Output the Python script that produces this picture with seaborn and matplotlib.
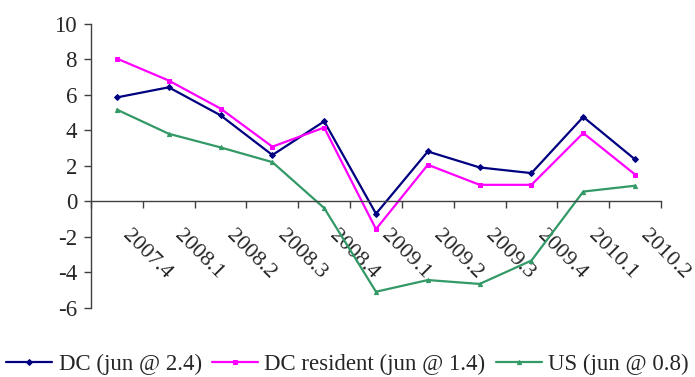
import matplotlib
matplotlib.use("Agg")
import matplotlib.pyplot as plt
import matplotlib.transforms as mtransforms
import seaborn as sns
import numpy as np

quarters = ["2007.4", "2008.1", "2008.2", "2008.3", "2008.4", "2009.1",
            "2009.2", "2009.3", "2009.4", "2010.1", "2010.2"]
dc = [5.86, 6.43, 4.85, 2.61, 4.51, -0.70, 2.81, 1.91, 1.59, 4.76, 2.36]
dc_resident = [8.05, 6.81, 5.23, 3.08, 4.16, -1.57, 2.06, 0.93, 0.93, 3.85, 1.51]
us = [5.17, 3.81, 3.04, 2.21, -0.38, -5.10, -4.44, -4.66, -3.34, 0.55, 0.88]

series = [
    ("DC (jun @ 2.4)", dc, "#000080", "D"),
    ("DC resident (jun @ 1.4)", dc_resident, "#FF00FF", "s"),
    ("US (jun @ 0.8)", us, "#339966", "^"),
]

sns.set_style("white")
plt.rcParams["font.family"] = ["Liberation Serif", "DejaVu Serif"]
plt.rcParams["axes.unicode_minus"] = False

fig = plt.figure(figsize=(6.95, 3.77), dpi=100)
ax = fig.add_axes([91 / 695, 1 - 307.7 / 377, 570 / 695, 283.7 / 377])

idx = np.arange(len(quarters))
for name, vals, color, marker in series:
    sns.lineplot(x=idx, y=vals, ax=ax, color=color, marker=marker,
                 markersize=4, markeredgecolor=color, linewidth=1.6,
                 label=name)

ax.set_xlim(-0.5, len(quarters) - 0.5)
ax.set_ylim(-6, 10)
ax.set_yticks(range(-6, 11, 2))
ax.tick_params(axis="y", labelsize=16.5, direction="out", length=5,
               width=1, color="#404040", left=True, pad=5)

ax.spines["top"].set_visible(False)
ax.spines["right"].set_visible(False)
ax.spines["bottom"].set_position(("data", 0))
for s in ["left", "bottom"]:
    ax.spines[s].set_color("#404040")
    ax.spines[s].set_linewidth(1.0)

ax.set_xticks(idx)
ax.set_xticklabels(quarters, rotation=-45, ha="left", va="top",
                   rotation_mode="anchor", fontsize=16)
ax.set_xticks(np.arange(-0.5, len(quarters), 1), minor=True)
ax.tick_params(axis="x", which="major", length=0, pad=12)
ax.tick_params(axis="x", which="minor", length=5, width=1,
               color="#404040", direction="out", bottom=True)

shift = mtransforms.ScaledTranslation(15 / 100, -8 / 100, fig.dpi_scale_trans)
for lab in ax.get_xticklabels():
    lab.set_transform(lab.get_transform() + shift)

ax.get_legend().remove()
handles, labels = ax.get_legend_handles_labels()
for h in handles:
    h.set_markersize(3)
fig.legend(handles, labels, loc="center", bbox_to_anchor=(0.5, 1 - 364 / 377),
           ncol=3, frameon=False, fontsize=16.5, handlelength=2.0,
           handletextpad=0.28, columnspacing=0.45, borderaxespad=0,
           borderpad=0)

fig.savefig("out.png", dpi=100)
